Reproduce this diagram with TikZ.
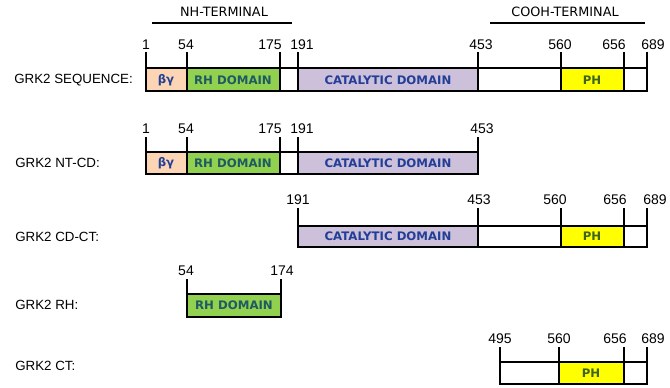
\documentclass[tikz,border=0pt]{standalone}
\usepackage{fontspec}
\setmainfont{Liberation Sans}
\newfontfamily\domfont{DejaVu Sans}
\usepackage{xcolor}
\usepackage{tikz}
\usetikzlibrary{positioning}

\definecolor{peach}{HTML}{FCD5B4}
\definecolor{rhgreen}{HTML}{92D050}
\definecolor{lavender}{HTML}{CCC0DA}
\definecolor{phyellow}{HTML}{FFFF00}
\definecolor{bluetext}{HTML}{233E96}
\definecolor{tealtext}{HTML}{1E5A62}
\definecolor{olivetext}{HTML}{3F6420}

\begin{document}
\begin{tikzpicture}[x=0.75pt, y=-0.75pt,
    seg/.style={draw=black, line width=1.2pt},
    num/.style={font=\fontsize{10.5}{12}\selectfont, inner sep=0pt},
    rowname/.style={anchor=west, font=\fontsize{10}{12}\selectfont, inner sep=0pt},
    dom/.style={font=\domfont\bfseries\fontsize{8.8}{10}\selectfont, inner sep=0pt},
    term/.style={font=\domfont\fontsize{9.6}{11}\selectfont, inner sep=0pt}]
  \useasboundingbox (0,0) rectangle (670,387);

  % terminal headers
  \node[term] (nh) at (224,12) {NH-TERMINAL};
  \draw[line width=1pt] (152,23) -- (292,23);
  \node[term] (cooh) at (565,12) {COOH-TERMINAL};
  \draw[line width=1pt] (490,23) -- (645,23);

  % row 1: full sequence
  \node[rowname] (n1) at (14,80) {GRK2 SEQUENCE:};
  \filldraw[seg, fill=peach]    (146,68) rectangle (187,91);
  \filldraw[seg, fill=rhgreen]  (187,68) rectangle (280,91);
  \filldraw[seg, fill=white]    (280,68) rectangle (298,91);
  \filldraw[seg, fill=lavender] (298,68) rectangle (478,91);
  \filldraw[seg, fill=white]    (478,68) rectangle (561,91);
  \filldraw[seg, fill=phyellow] (561,68) rectangle (624,91);
  \filldraw[seg, fill=white]    (624,68) rectangle (647,91);
  \node[dom, bluetext]  (a1) at (166,80) {βγ};
  \node[dom, tealtext]  (b1) at (233,80) {RH DOMAIN};
  \node[dom, bluetext]  (c1) at (388,80) {CATALYTIC DOMAIN};
  \node[dom, olivetext] (d1) at (592,80) {PH};
  \foreach \x/\l/\lx in {146/1/146, 187/54/186, 280/175/270, 298/191/302,
                         478/453/481, 561/560/560, 624/656/614, 647/689/653} {
    \draw[seg] (\x,68) -- (\x,52);
    \node[num] (t1-\l) at (\lx,45) {\l};
  }

  % row 2: NT-CD
  \node[rowname] (n2) at (15,163) {GRK2 NT-CD:};
  \filldraw[seg, fill=peach]    (146,152) rectangle (187,174);
  \filldraw[seg, fill=rhgreen]  (187,152) rectangle (280,174);
  \filldraw[seg, fill=white]    (280,152) rectangle (298,174);
  \filldraw[seg, fill=lavender] (298,152) rectangle (478,174);
  \node[dom, bluetext] (a2) at (166,163) {βγ};
  \node[dom, tealtext] (b2) at (233,163) {RH DOMAIN};
  \node[dom, bluetext] (c2) at (388,163) {CATALYTIC DOMAIN};
  \foreach \x/\l/\lx in {146/1/146, 187/54/186, 280/175/270, 298/191/302,
                         478/453/482} {
    \draw[seg] (\x,152) -- (\x,137);
    \node[num] (t2-\l) at (\lx,129) {\l};
  }

  % row 3: CD-CT
  \node[rowname] (n3) at (15,237) {GRK2 CD-CT:};
  \filldraw[seg, fill=lavender] (298,226) rectangle (478,247);
  \filldraw[seg, fill=white]    (478,226) rectangle (561,247);
  \filldraw[seg, fill=phyellow] (561,226) rectangle (624,247);
  \filldraw[seg, fill=white]    (624,226) rectangle (647,247);
  \node[dom, bluetext]  (c3) at (388,236.5) {CATALYTIC DOMAIN};
  \node[dom, olivetext] (d3) at (592,236.5) {PH};
  \foreach \x/\l/\lx in {298/191/298, 478/453/479, 561/560/555,
                         624/656/615, 647/689/655} {
    \draw[seg] (\x,226) -- (\x,208);
    \node[num] (t3-\l) at (\lx,200) {\l};
  }

  % row 4: RH
  \node[rowname] (n4) at (15,305) {GRK2 RH:};
  \filldraw[seg, fill=rhgreen] (187,294) rectangle (281,317);
  \node[dom, tealtext] (b4) at (234,305.5) {RH DOMAIN};
  \foreach \x/\l/\lx in {187/54/186, 281/174/282} {
    \draw[seg] (\x,294) -- (\x,279);
    \node[num] (t4-\l) at (\lx,271) {\l};
  }

  % row 5: CT
  \node[rowname] (n5) at (15,366) {GRK2 CT:};
  \filldraw[seg, fill=white]    (500,362) rectangle (559,384);
  \filldraw[seg, fill=phyellow] (559,362) rectangle (624,384);
  \filldraw[seg, fill=white]    (624,362) rectangle (647,384);
  \node[dom, olivetext] (d5) at (591,373) {PH};
  \foreach \x/\l/\lx in {500/495/500, 559/560/559, 624/656/615, 647/689/653} {
    \draw[seg] (\x,362) -- (\x,347);
    \node[num] (t5-\l) at (\lx,339) {\l};
  }
\end{tikzpicture}
\end{document}
